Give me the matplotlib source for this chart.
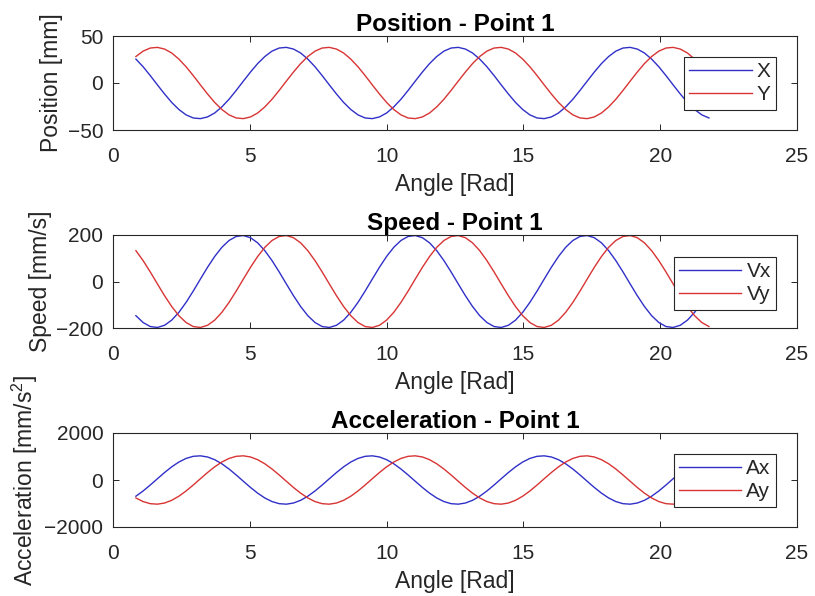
import numpy as np
import matplotlib
matplotlib.use("Agg")
import matplotlib.pyplot as plt

# Crank angle samples (degrees), one every 15 degrees
angle_deg = np.arange(48, 1249, 15)
angle = np.deg2rad(angle_deg)

# Position of point 1 [mm]
pos_x = [25.4, 17.3, 7.9, -2.0, -11.7, -20.7, -28.2, -33.9, -37.2, -37.9, -36.1, -31.9,
         -25.4, -17.3, -7.9, 2.0, 11.7, 20.7, 28.2, 33.9, 37.2, 37.9, 36.1, 31.9,
         25.4, 17.3, 7.9, -2.0, -11.7, -20.7, -28.2, -33.9, -37.2, -37.9, -36.1, -31.9,
         -25.4, -17.3, -7.9, 2.0, 11.7, 20.7, 28.2, 33.9, 37.2, 37.9, 36.1, 31.9,
         25.4, 17.3, 7.9, -2.0, -11.7, -20.7, -28.2, -33.9, -37.2, -37.9, -36.1, -31.9,
         -25.4, -17.3, -7.9, 2.0, 11.7, 20.7, 28.2, 33.9, 37.2, 37.9, 36.1, 31.9,
         25.4, 17.3, 7.9, -2.0, -11.7, -20.7, -28.2, -33.9, -37.2]
pos_y = [28.2, 33.9, 37.2, 37.9, 36.1, 31.9, 25.4, 17.3, 7.9, -2.0, -11.7, -20.7,
         -28.2, -33.9, -37.2, -37.9, -36.1, -31.9, -25.4, -17.3, -7.9, 2.0, 11.7, 20.7,
         28.2, 33.9, 37.2, 37.9, 36.1, 31.9, 25.4, 17.3, 7.9, -2.0, -11.7, -20.7,
         -28.2, -33.9, -37.2, -37.9, -36.1, -31.9, -25.4, -17.3, -7.9, 2.0, 11.7, 20.7,
         28.2, 33.9, 37.2, 37.9, 36.1, 31.9, 25.4, 17.3, 7.9, -2.0, -11.7, -20.7,
         -28.2, -33.9, -37.2, -37.9, -36.1, -31.9, -25.4, -17.3, -7.9, 2.0, 11.7, 20.7,
         28.2, 33.9, 37.2, 37.9, 36.1, 31.9, 25.4, 17.3, 7.9]

# Speed of point 1 [mm/s]
vel_x = [-147.1, -176.4, -193.7, -197.7, -188.3, -166.1, -132.5, -89.9, -41.2, 10.4, 61.2, 107.8,
         147.1, 176.4, 193.7, 197.7, 188.3, 166.1, 132.5, 89.9, 41.2, -10.4, -61.2, -107.8,
         -147.1, -176.4, -193.7, -197.7, -188.3, -166.1, -132.5, -89.9, -41.2, 10.4, 61.2, 107.8,
         147.1, 176.4, 193.7, 197.7, 188.3, 166.1, 132.5, 89.9, 41.2, -10.4, -61.2, -107.8,
         -147.1, -176.4, -193.7, -197.7, -188.3, -166.1, -132.5, -89.9, -41.2, 10.4, 61.2, 107.8,
         147.1, 176.4, 193.7, 197.7, 188.3, 166.1, 132.5, 89.9, 41.2, -10.4, -61.2, -107.8,
         -147.1, -176.4, -193.7, -197.7, -188.3, -166.1, -132.5, -89.9, -41.2]
vel_y = [132.5, 89.9, 41.2, -10.4, -61.2, -107.8, -147.1, -176.4, -193.7, -197.7, -188.3, -166.1,
         -132.5, -89.9, -41.2, 10.4, 61.2, 107.8, 147.1, 176.4, 193.7, 197.7, 188.3, 166.1,
         132.5, 89.9, 41.2, -10.4, -61.2, -107.8, -147.1, -176.4, -193.7, -197.7, -188.3, -166.1,
         -132.5, -89.9, -41.2, 10.4, 61.2, 107.8, 147.1, 176.4, 193.7, 197.7, 188.3, 166.1,
         132.5, 89.9, 41.2, -10.4, -61.2, -107.8, -147.1, -176.4, -193.7, -197.7, -188.3, -166.1,
         -132.5, -89.9, -41.2, 10.4, 61.2, 107.8, 147.1, 176.4, 193.7, 197.7, 188.3, 166.1,
         132.5, 89.9, 41.2, -10.4, -61.2, -107.8, -147.1, -176.4, -193.7]

# Acceleration of point 1 [mm/s^2]
acc_x = [-689.2, -467.6, -214.1, 53.9, 318.3, 560.9, 765.4, 917.7, 1007.4, 1028.6, 979.6, 863.9,
         689.2, 467.6, 214.1, -53.9, -318.3, -560.9, -765.4, -917.7, -1007.4, -1028.6, -979.6, -863.9,
         -689.2, -467.6, -214.1, 53.9, 318.3, 560.9, 765.4, 917.7, 1007.4, 1028.6, 979.6, 863.9,
         689.2, 467.6, 214.1, -53.9, -318.3, -560.9, -765.4, -917.7, -1007.4, -1028.6, -979.6, -863.9,
         -689.2, -467.6, -214.1, 53.9, 318.3, 560.9, 765.4, 917.7, 1007.4, 1028.6, 979.6, 863.9,
         689.2, 467.6, 214.1, -53.9, -318.3, -560.9, -765.4, -917.7, -1007.4, -1028.6, -979.6, -863.9,
         -689.2, -467.6, -214.1, 53.9, 318.3, 560.9, 765.4, 917.7, 1007.4]
acc_y = [-765.4, -917.7, -1007.4, -1028.6, -979.6, -863.9, -689.2, -467.6, -214.1, 53.9, 318.3, 560.9,
         765.4, 917.7, 1007.4, 1028.6, 979.6, 863.9, 689.2, 467.6, 214.1, -53.9, -318.3, -560.9,
         -765.4, -917.7, -1007.4, -1028.6, -979.6, -863.9, -689.2, -467.6, -214.1, 53.9, 318.3, 560.9,
         765.4, 917.7, 1007.4, 1028.6, 979.6, 863.9, 689.2, 467.6, 214.1, -53.9, -318.3, -560.9,
         -765.4, -917.7, -1007.4, -1028.6, -979.6, -863.9, -689.2, -467.6, -214.1, 53.9, 318.3, 560.9,
         765.4, 917.7, 1007.4, 1028.6, 979.6, 863.9, 689.2, 467.6, 214.1, -53.9, -318.3, -560.9,
         -765.4, -917.7, -1007.4, -1028.6, -979.6, -863.9, -689.2, -467.6, -214.1]

titles = ["Position - Point 1", "Speed - Point 1", "Acceleration - Point 1"]
ylabels = ["Position [mm]", "Speed [mm/s]", "Acceleration [mm/s$^2$]"]
legend_labels = [("X", "Y"), ("Vx", "Vy"), ("Ax", "Ay")]
yticks = [[-50, 0, 50], [-200, 0, 200], [-2000, 0, 2000]]
xticks = [0, 5, 10, 15, 20, 25]
series = [(pos_x, pos_y), (vel_x, vel_y), (acc_x, acc_y)]

plt.rcParams["font.family"] = ["Liberation Sans", "DejaVu Sans"]
plt.rcParams["mathtext.fontset"] = "custom"
plt.rcParams["mathtext.rm"] = "Liberation Sans"
plt.rcParams["mathtext.it"] = "Liberation Sans"

ink = "#262626"
blue = "#3030c8"
red = "#d83434"
W, H = 815, 596
fig = plt.figure(figsize=(W / 100, H / 100), dpi=100)

# axes boxes in pixels: (left, top, right, bottom)
boxes = [(113, 36, 797, 130), (113, 235, 797, 328), (113, 433, 797, 527)]
legend_tops = [57, 257, 454]
legend_right = 776

for i, (l, t, r, b) in enumerate(boxes):
    ax = fig.add_axes([l / W, 1 - b / H, (r - l) / W, (b - t) / H])
    sx, sy = series[i]
    ax.plot(angle, sx, color=blue, lw=1.0, label=legend_labels[i][0])
    ax.plot(angle, sy, color=red, lw=1.0, label=legend_labels[i][1])
    ax.set_xlim(0, 25)
    ax.set_ylim(yticks[i][0], yticks[i][-1])
    ax.set_xticks(xticks)
    ax.set_yticks(yticks[i])
    for s in ax.spines.values():
        s.set_color(ink)
        s.set_linewidth(0.8)
    ax.tick_params(direction="in", length=4, width=0.7, colors=ink,
                   labelsize=15, top=True, right=True)
    ax.tick_params(axis="x", pad=12)
    ax.tick_params(axis="y", pad=7)
    ax.set_title(titles[i], fontsize=17.5, fontweight="bold", color="black", pad=3.5)
    ax.set_xlabel("Angle [Rad]", fontsize=16.5, color=ink, labelpad=5)
    ax.set_ylabel(ylabels[i], fontsize=16.5, color=ink, labelpad=3)
    ay = 1 - (legend_tops[i] - t) / (b - t)
    axx = (legend_right - l) / (r - l)
    leg = ax.legend(loc="upper right", bbox_to_anchor=(axx, ay), borderaxespad=0,
                    fontsize=15, fancybox=False, framealpha=1, edgecolor=ink,
                    handlelength=3.0, handletextpad=0.25, labelspacing=0.2,
                    borderpad=0.25)
    leg.get_frame().set_linewidth(0.8)
    for txt in leg.get_texts():
        txt.set_color(ink)

fig.savefig("out.png", dpi=100, facecolor="white")
